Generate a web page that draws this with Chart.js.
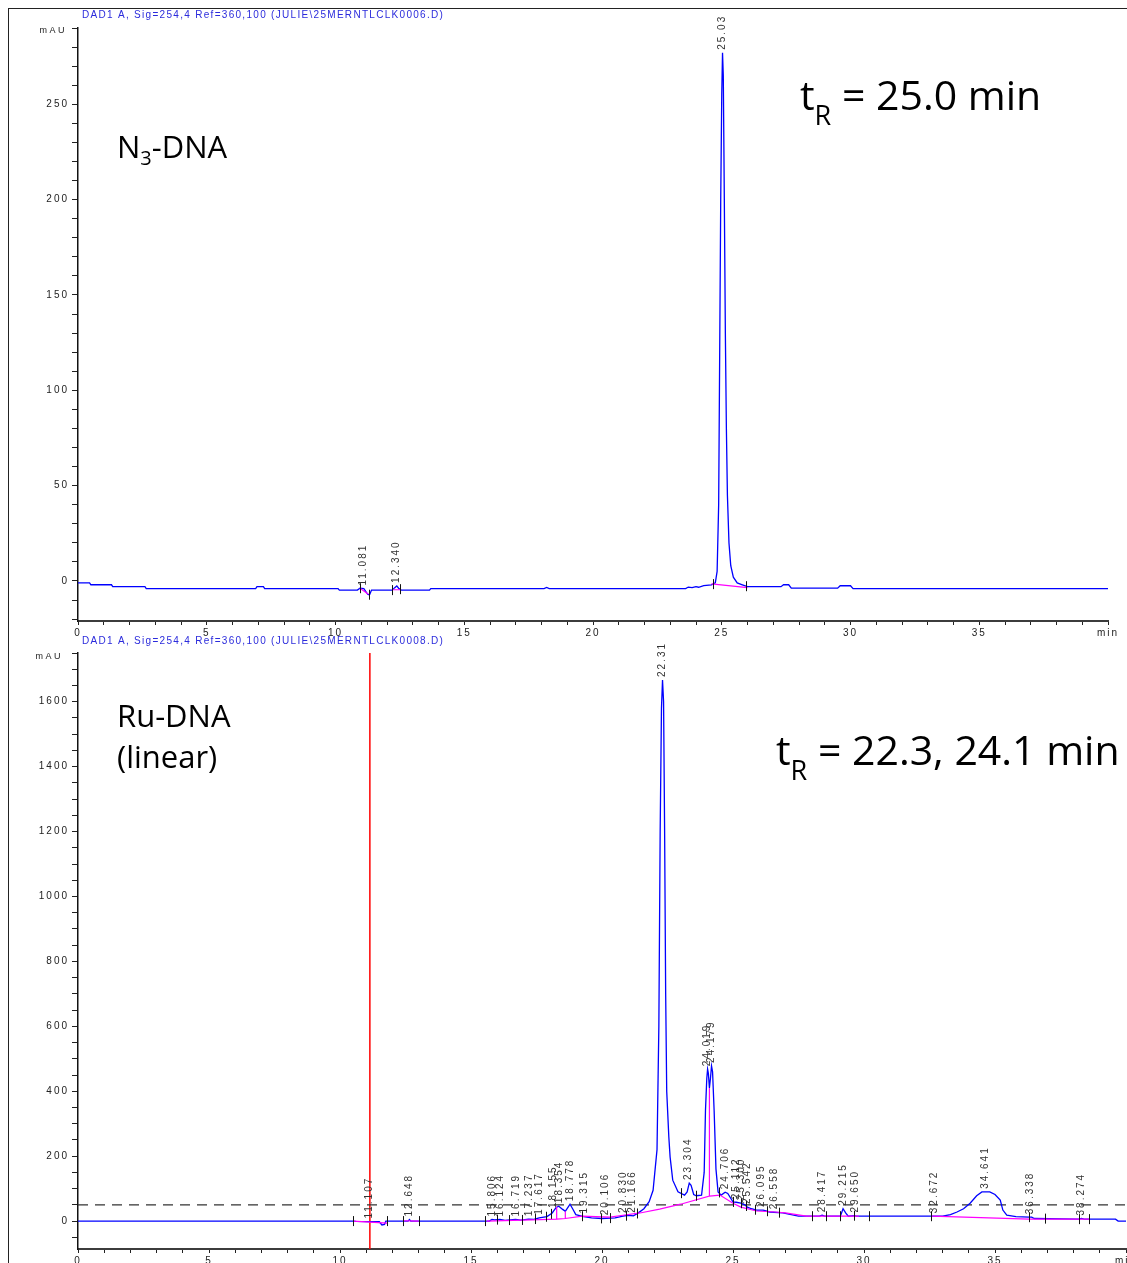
<!DOCTYPE html>
<html>
<head>
<meta charset="utf-8">
<script src="https://cdn.jsdelivr.net/npm/chart.js@4.4.1/dist/chart.umd.min.js"></script>
<style>
  html, body { margin: 0; padding: 0; background: #fff; }
  body { width: 1127px; height: 1263px; position: relative; overflow: hidden; }
  canvas { position: absolute; left: 0; }
  #frame { position: absolute; left: 8px; top: 8px; right: -4px; bottom: -4px;
           border-left: 1.5px solid #222; border-top: 1.5px solid #222; }
</style>
</head>
<body>
<div id="frame"></div>
<canvas id="top" width="1127" height="645" style="top:0"></canvas>
<canvas id="bottom" width="1127" height="633" style="top:630px"></canvas>
<script>
// ---- N3-DNA run (0006.D) ----
const n3Time = [0, 0.45, 0.5, 1.3, 1.35, 2.6, 2.65, 6.9, 6.95, 7.2, 7.25, 10.1, 10.15, 10.85, 10.95, 11.1,
  11.25, 11.32, 11.4, 12.2, 12.3, 12.38, 12.45, 12.55, 13.65, 13.7, 18.1, 18.2, 18.3, 23.6, 23.7, 23.85,
  24.0, 24.1, 24.3, 24.6, 24.75, 24.82, 24.88, 24.92, 24.96, 25.0, 25.03, 25.06, 25.1, 25.14, 25.18,
  25.22, 25.28, 25.35, 25.45, 25.6, 25.8, 26.0, 27.3, 27.4, 27.6, 27.7, 29.5, 29.6, 30.0, 30.1, 40];
const n3Signal = [-1, -1, -2, -2, -3, -3, -4, -4, -3, -3, -4, -4, -4.8, -4.8, -3.8, -4,
  -7, -7.3, -4.8, -4.8, -3.5, -2.6, -3.8, -4.8, -4.8, -4, -4, -3.4, -4, -4, -3.2, -3.5,
  -3, -3.3, -2.5, -2, -1, 5, 40, 120, 200, 255, 277, 265, 200, 130, 80,
  45, 20, 8, 2, -1, -2, -3, -3, -2, -2, -3.8, -3.8, -2.5, -2.5, -4, -4];
const n3BaseTime = [10.95, 11.28, 11.3, 12.2, 12.55, 12.6, 24.6, 26.0];
const n3BaseSignal = [-3.8, -7, null, -4.6, -4.6, null, -1.5, -3.5];
const n3BoundTimes = [10.95, 11.3, 12.2, 12.5, 24.65, 25.95];
const n3PeakTimes = [11.081, 12.340, 25.03];
const n3PeakLabels = ['11.081', '12.340', '25.03'];
const n3YLabels = [0, 50, 100, 150, 200, 250];

// ---- Ru-DNA run (0008.D) ----
const ruTime = [0, 10.5, 10.6, 11.5, 11.6, 11.7, 11.75, 12.6, 12.65, 12.7, 15.7, 15.8, 15.9, 16.1, 16.3,
  16.7, 16.9, 17.2, 17.4, 17.6, 17.9, 18.1, 18.25, 18.35, 18.5, 18.6, 18.7, 18.78, 18.9, 19.0, 19.3,
  19.6, 20.0, 20.5, 20.8, 21.0, 21.2, 21.4, 21.6, 21.8, 21.95, 22.1, 22.17, 22.22, 22.27, 22.31, 22.35,
  22.39, 22.43, 22.47, 22.55, 22.6, 22.7, 22.9, 23.15, 23.25, 23.33, 23.4, 23.5, 23.6, 23.8, 23.9,
  23.95, 24.0, 24.03, 24.06, 24.1, 24.14, 24.18, 24.22, 24.28, 24.35, 24.43, 24.55, 24.7, 24.8, 25.0,
  25.12, 25.3, 25.45, 25.55, 25.7, 25.9, 26.15, 26.4, 26.9, 27.5, 28.3, 28.4, 28.5, 29.1, 29.2, 29.3,
  29.4, 29.65, 29.7, 32.7, 33.0, 33.3, 33.55, 33.8, 34.05, 34.3, 34.5, 34.8, 35.0, 35.2, 35.3, 35.45,
  35.8, 36.3, 36.4, 36.5, 38.2, 38.3, 38.4, 39.6, 39.7, 40];
const ruSignal = [0, 0, -1, -2, -12, -10, 0, 0, 5, 0, 0, 5, 4, 5, 2,
  5, 3, 6, 5, 10, 14, 25, 42, 46, 36, 30, 42, 52, 35, 20, 14,
  10, 8, 10, 15, 18, 16, 26, 38, 60, 95, 220, 600, 1200, 1580, 1667, 1600,
  1200, 700, 400, 260, 197, 126, 90, 80, 90, 117, 110, 82, 78, 80, 150,
  342, 440, 468, 455, 410, 440, 478, 460, 340, 160, 90, 80, 89, 85, 59,
  58, 55, 50, 43, 38, 34, 34, 28, 25, 15, 15, 18, 15, 15, 38, 25,
  15, 17, 15, 15, 15, 20, 28, 38, 55, 78, 90, 90, 82, 65, 34, 18,
  14, 12, 12, 8, 6, 8, 6, 6, 0, 0];
const ruBaseTime = [10.5, 11.8, 11.9, 12.4, 13.0, 13.1, 15.6, 18.27, 18.27, 18.28, 18.27, 18.6, 18.6, 18.61,
  18.6, 19.25, 20.3, 20.8, 21.45, 22.2, 23.0, 24.1, 24.1, 24.11, 24.1, 24.5, 25.0, 25.3, 25.9, 26.6,
  27.0, 27.8, 29.8, 29.9, 32.6, 36.3, 38.6];
const ruBaseSignal = [0, -6, null, 1, 0, null, 0, 6, 44, null, 6, 8, 30, null,
  8, 15, 12, 18, 25, 37, 52, 77, 410, null, 77, 80, 55, 43, 31, 28,
  25, 15, 15, null, 15, 6, 6];
const ruBoundTimes = [10.5, 11.8, 12.4, 13.0, 15.55, 16.0, 16.45, 16.95, 17.45, 17.85, 18.05, 19.25,
  19.95, 20.3, 20.9, 21.35, 23.0, 23.6, 24.45, 25.0, 25.3, 25.5, 25.85, 26.3, 26.75, 28.0, 28.55,
  29.1, 29.6, 30.2, 32.55, 36.3, 36.9, 38.2, 38.6];
const ruPeakTimes = [11.107, 12.648, 15.806, 16.124, 16.719, 17.237, 17.617, 18.155, 18.354, 18.778,
  19.315, 20.106, 20.830, 21.166, 22.31, 23.304, 24.019, 24.179, 24.706, 25.112, 25.300, 25.542,
  26.095, 26.558, 28.417, 29.215, 29.650, 32.672, 34.641, 36.338, 38.274];
const ruPeakLabels = ['11.107', '12.648', '15.806', '16.124', '16.719', '17.237', '17.617', '18.155',
  '18.354', '18.778', '19.315', '20.106', '20.830', '21.166', '22.31', '23.304', '24.019', '24.179',
  '24.706', '25.112', '25.300', '25.542', '26.095', '26.558', '28.417', '29.215', '29.650', '32.672',
  '34.641', '36.338', '38.274'];
const ruYLabels = [0, 200, 400, 600, 800, 1000, 1200, 1400, 1600];
const ruThreshold = 50;
const ruCursorTime = 11.14;

const xLabels = { 0: '0', 5: '5', 10: '10', 15: '15', 20: '20', 25: '25', 30: '30', 35: '35', 40: 'min' };

function series(times, values) {
  return times.map((t, i) => ({ x: t, y: values[i] }));
}

function traceAt(times, values, t) {
  for (let i = 1; i < times.length; i++) {
    if (times[i - 1] <= t && times[i] >= t) {
      const f = (t - times[i - 1]) / ((times[i] - times[i - 1]) || 1);
      return values[i - 1] + f * (values[i] - values[i - 1]);
    }
  }
  return values[values.length - 1];
}

// height of trace near a peak time, used to stand the rotated label on it
function traceHeight(times, values, t) {
  let best = traceAt(times, values, t);
  for (let i = 0; i < times.length; i++) {
    if (Math.abs(times[i] - t) <= 0.06 && values[i] > best) best = values[i];
  }
  return best;
}

const axisFont = { family: 'Liberation Sans', size: 10 };

function drawSub(ctx, x, y, parts) {
  let cx = x;
  parts.forEach(([txt, size, dy]) => {
    ctx.font = size + 'px "Open Sans"';
    ctx.fillText(txt, cx, y + dy);
    cx += ctx.measureText(txt).width;
  });
}

function makeChart(id, cfg) {
  const extra = cfg.extra || [];
  return new Chart(document.getElementById(id), {
    type: 'line',
    data: {
      datasets: [
        { data: series(cfg.baseTime, cfg.baseSignal), borderColor: '#ff00ff', borderWidth: 1.2,
          pointRadius: 0, spanGaps: false },
        { data: series(cfg.time, cfg.signal), borderColor: '#0000ff', borderWidth: 1.3, pointRadius: 0 },
        ...extra
      ]
    },
    options: {
      responsive: false,
      animation: false,
      devicePixelRatio: 1,
      parsing: false,
      layout: { autoPadding: false, padding: { top: cfg.padTop, right: cfg.padRight, left: 0, bottom: 0 } },
      plugins: { legend: { display: false }, tooltip: { enabled: false } },
      scales: {
        x: {
          type: 'linear', min: 0, max: 40,
          afterFit: s => { s.height = cfg.xHeight; s.paddingLeft = 0; s.paddingRight = 0; },
          border: { color: '#3c3c3c', width: 2 },
          grid: { drawOnChartArea: false, tickLength: 4, color: '#222' },
          ticks: { stepSize: 1, autoSkip: false, maxRotation: 0, padding: 2, color: '#222', font: axisFont,
                   callback: v => (v in xLabels ? xLabels[v] : '') }
        },
        y: {
          type: 'linear', min: cfg.yMin, max: cfg.yMax,
          afterFit: s => { s.width = 78; s.paddingTop = 0; s.paddingBottom = 0; },
          border: { color: '#111', width: 1.5 },
          grid: { drawOnChartArea: false, tickLength: 6, color: '#222' },
          ticks: { stepSize: cfg.yStep, autoSkip: false, includeBounds: false, padding: 3, color: '#222',
                   font: axisFont, callback: v => (cfg.yLabels.includes(v) ? String(v) : '') }
        }
      }
    },
    plugins: [{
      id: 'hplc',
      beforeDraw(chart) {
        chart.ctx.letterSpacing = '2px';
      },
      afterDatasetsDraw(chart) {
        const ctx = chart.ctx, xs = chart.scales.x, ys = chart.scales.y;
        ctx.save();
        // integration boundary marks
        ctx.strokeStyle = '#111';
        ctx.lineWidth = 1;
        cfg.boundTimes.forEach(t => {
          const px = Math.round(xs.getPixelForValue(t)) + 0.5;
          const py = ys.getPixelForValue(traceAt(cfg.time, cfg.signal, t));
          ctx.beginPath();
          ctx.moveTo(px, py - 5);
          ctx.lineTo(px, py + 5);
          ctx.stroke();
        });
        // retention time labels
        ctx.letterSpacing = '2px';
        ctx.fillStyle = '#333';
        ctx.font = '10px "Liberation Sans"';
        ctx.textAlign = 'left';
        ctx.textBaseline = 'middle';
        cfg.peakTimes.forEach((t, i) => {
          const h = traceHeight(cfg.time, cfg.signal, t);
          const px = xs.getPixelForValue(t), py = ys.getPixelForValue(h) - 3;
          ctx.save();
          ctx.translate(px, py);
          ctx.rotate(-Math.PI / 2);
          ctx.fillText(cfg.peakLabels[i], 0, 0);
          ctx.restore();
        });
        ctx.restore();
      },
      afterDraw(chart) {
        const ctx = chart.ctx;
        ctx.save();
        ctx.letterSpacing = '1.3px';
        ctx.font = '10px "Liberation Sans"';
        ctx.textBaseline = 'middle';
        ctx.fillStyle = '#2b2bdc';
        ctx.textAlign = 'left';
        ctx.fillText(cfg.title, 82, cfg.titleY);
        ctx.letterSpacing = '2.5px';
        ctx.fillStyle = '#222';
        ctx.font = '9px "Liberation Sans"';
        ctx.textAlign = 'right';
        ctx.fillText('mAU', cfg.unitX, cfg.unitY);
        ctx.letterSpacing = '0px';
        ctx.fillStyle = '#000';
        ctx.textAlign = 'left';
        ctx.textBaseline = 'alphabetic';
        cfg.notes.forEach(n => drawSub(ctx, n.x, n.y, n.parts));
        ctx.restore();
      }
    }]
  });
}

makeChart('top', {
  time: n3Time, signal: n3Signal, baseTime: n3BaseTime, baseSignal: n3BaseSignal, boundTimes: n3BoundTimes,
  peakTimes: n3PeakTimes, peakLabels: n3PeakLabels, yLabels: n3YLabels,
  yMin: -21, yMax: 290, yStep: 10, padTop: 28, padRight: 19, xHeight: 24,
  title: 'DAD1 A, Sig=254,4 Ref=360,100 (JULIE\\25MERNTLCLK0006.D)', titleY: 15, unitX: 67, unitY: 31,
  notes: [
    { x: 117, y: 158, parts: [['N', 31, 0], ['3', 20, 7], ['-DNA', 31, 0]] },
    { x: 800, y: 110, parts: [['t', 41, 0], ['R', 27, 15], [' = 25.0 min', 41, 0]] }
  ]
});

makeChart('bottom', {
  time: ruTime, signal: ruSignal, baseTime: ruBaseTime, baseSignal: ruBaseSignal, boundTimes: ruBoundTimes,
  peakTimes: ruPeakTimes, peakLabels: ruPeakLabels, yLabels: ruYLabels,
  yMin: -86, yMax: 1750, yStep: 50, padTop: 23, padRight: 1, xHeight: 14,
  title: 'DAD1 A, Sig=254,4 Ref=360,100 (JULIE\\25MERNTLCLK0008.D)', titleY: 11, unitX: 63, unitY: 27,
  notes: [
    { x: 117, y: 97, parts: [['Ru-DNA', 31, 0]] },
    { x: 117, y: 138, parts: [['(linear)', 31, 0]] },
    { x: 776, y: 135, parts: [['t', 41, 0], ['R', 27, 15], [' = 22.3, 24.1 min', 41, 0]] }
  ],
  extra: [
    { data: [{ x: 0, y: ruThreshold }, { x: 40, y: ruThreshold }], borderColor: '#333', borderWidth: 1.3,
      borderDash: [10, 7], pointRadius: 0 },
    { data: [{ x: ruCursorTime, y: -86 }, { x: ruCursorTime, y: 1750 }], borderColor: '#ff0000',
      borderWidth: 1.5, pointRadius: 0 }
  ]
});
</script>
</body>
</html>
